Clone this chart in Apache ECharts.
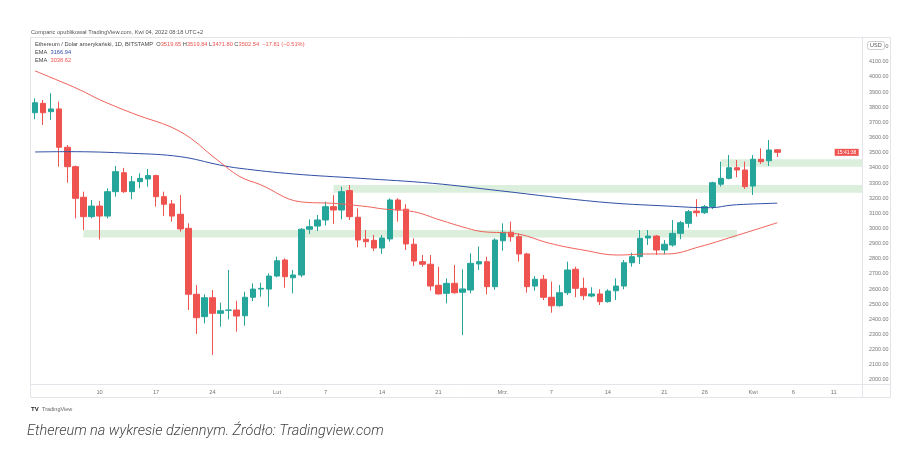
<!DOCTYPE html>
<html><head><meta charset="utf-8">
<script src="https://cdn.jsdelivr.net/npm/echarts@6/dist/echarts.min.js"></script>
<style>html,body{margin:0;padding:0;background:#fff;}#c{width:911px;height:470px;}</style>
</head><body><div id="c"></div>
<script>
// ---- data ----
const firstDay = '2022-01-02';
const axisDays = 103; // Jan 2 .. Apr 14 shown on the time scale
const openV = [3764,3826,3771,3789,3536,3408,3206,3078,3148,3082,
 3243,3368,3243,3309,3327,3349,3210,3162,3094,3001,
 2566,2418,2543,2440,2460,2462,2424,2546,2600,2600,
 2686,2792,2675,2693,2995,3016,3056,3144,3122,3250,
 3074,2929,2922,2871,2931,3188,3127,2896,2781,2764,
 2625,2572,2638,2579,2594,2766,2781,2616,2919,2975,
 2946,2832,2620,2665,2546,2490,2576,2731,2605,2554,
 2568,2517,2589,2620,2774,2814,2937,2950,2858,2891,
 2968,3034,3115,3104,3144,3292,3331,3401,3386,3280,
 3457,3447,3519.65];
const closeV = [3830,3764,3789,3536,3408,3199,3078,3148,3082,3243,
 3375,3243,3309,3331,3349,3210,3160,3082,2997,2566,
 2411,2543,2440,2457,2462,2422,2546,2600,2605,2686,
 2787,2682,2693,2995,3012,3056,3144,3122,3243,3078,
 2924,2913,2871,2937,3188,3122,2898,2785,2764,2620,
 2568,2638,2576,2601,2770,2781,2616,2924,2975,2946,
 2832,2616,2665,2546,2490,2576,2726,2605,2556,2568,
 2517,2587,2620,2774,2814,2935,2950,2858,2896,2968,
 3038,3111,3104,3144,3302,3331,3401,3386,3276,3457,
 3441,3518,3502.54];
const lowV = [3721,3683,3716,3408,3302,3067,2990,3067,2928,3067,
 3210,3235,3193,3265,3276,3144,3082,3045,2979,2462,
 2304,2374,2165,2352,2400,2319,2358,2521,2550,2484,
 2678,2609,2572,2678,2964,2983,3020,3030,3060,3056,
 2876,2876,2853,2832,2913,3045,2858,2752,2748,2590,
 2565,2506,2570,2297,2572,2726,2565,2595,2853,2913,
 2781,2576,2589,2528,2444,2484,2561,2546,2528,2546,
 2495,2510,2528,2599,2748,2766,2891,2825,2830,2880,
 2929,3005,3078,3096,3128,3276,3324,3338,3261,3221,
 3426,3412,3471.80];
const highV = [3859,3848,3892,3837,3551,3415,3243,3188,3181,3265,
 3412,3400,3346,3364,3393,3355,3243,3188,3221,3034,
 2627,2566,2594,2510,2726,2523,2583,2638,2642,2704,
 2814,2803,2726,3003,3060,3089,3177,3220,3276,3287,
 3133,2990,2957,2957,3199,3200,3160,2935,2825,2825,
 2748,2671,2759,2731,2836,2880,2814,2935,3034,3045,
 2968,2840,2686,2693,2649,2627,2781,2748,2675,2612,
 2599,2599,2671,2792,2840,2990,2990,2957,2924,3056,
 3050,3122,3193,3155,3309,3441,3485,3452,3441,3485,
 3529,3584,3519.84];
// EMA curves (day offset from firstDay, value)
const emaBlueDay = [0,4,12,18,22.9,25.4,32,40.3,49.3,57.6,70,78.4,83.7,86.5,92];
const emaBlueVal = [3505,3507,3496,3474,3419,3397,3360,3331,3298,3249,3175,3148,3137,3155,3167];
const emaRedDay = [0,2.5,5.6,8.1,12.1,18,22.6,25.4,27.9,32.9,36.9,41.2,43.1,46.9,50.2,53.6,55.5,59.8,63.8,67.9,72.2,76.2,78.4,82.4,86.5,92];
const emaRedVal = [4040,3985,3914,3848,3760,3639,3452,3342,3290,3176,3166,3144,3129,3111,3056,3001,2979,2964,2902,2858,2825,2832,2832,2880,2946,3038];
// support zones: start date, end date (null = right edge), low, high
const zoneStart = ['2022-01-08','2022-02-08','2022-03-28'];
const zoneEnd = ['2022-03-30', null, null];
const zoneLow = [2940, 3236, 3408];
const zoneHigh = [2990, 3287, 3457];
// tick labels
const xTickLabels = {'2022-01-10':'10','2022-01-17':'17','2022-01-24':'24','2022-02-01':'Lut','2022-02-07':'7','2022-02-14':'14','2022-02-21':'21','2022-03-01':'Mrz.','2022-03-07':'7','2022-03-14':'14','2022-03-21':'21','2022-03-26':'26','2022-04-01':'Kwi','2022-04-06':'6','2022-04-11':'11'};
const yTickValues = [2000,2100,2200,2300,2400,2500,2600,2700,2800,2900,3000,3100,3200,3300,3400,3500,3600,3700,3800,3900,4000,4100,4200];
const countdownText = '15:41:38';

// ---- build ----
const categories = [];
{ const d0 = new Date(firstDay + 'T00:00:00Z');
  for (let i = 0; i < axisDays; i++) { const d = new Date(d0.getTime() + i*86400000); categories.push(d.toISOString().slice(0,10)); } }
const candles = openV.map((o,i)=>[o, closeV[i], lowV[i], highV[i]]);
const lastClose = closeV[closeV.length-1];
const UP = '#26a69a', DOWN = '#ef5350';
const zones = zoneStart.map((s,k)=>[
  {coord:[categories.indexOf(s), zoneHigh[k]]},
  {coord:[zoneEnd[k] ? categories.indexOf(zoneEnd[k]) : axisDays-0.5, zoneLow[k]]}
]);
const FONT = '"Liberation Sans", Arial, sans-serif';
const FS = 5.7;

const chart = echarts.init(document.getElementById('c'), null, {renderer:'canvas'});
chart.setOption({
  animation:false,
  backgroundColor:'#fff',
  grid:{left:31, right:49, top:38, bottom:86},
  xAxis:[{
    type:'category', data:categories, boundaryGap:true,
    axisLine:{show:false}, axisTick:{show:false}, splitLine:{show:false},
    axisLabel:{interval:(i,v)=>Object.prototype.hasOwnProperty.call(xTickLabels,v),
      formatter:v=>xTickLabels[v]||'', color:'#777', fontSize:FS, margin:5, fontFamily:FONT}
  },{
    type:'value', min:-0.5, max:axisDays-0.5, show:false
  }],
  yAxis:{
    type:'value', position:'right', min:1973.6, max:4257.2, scale:true,
    axisLine:{show:false}, axisTick:{show:false}, splitLine:{show:false},
    axisLabel:{customValues:yTickValues, formatter:v=>v.toFixed(2), color:'#777', fontSize:5.4, margin:7, fontFamily:FONT}
  },
  series:[
    {type:'line', xAxisIndex:1, data:[], silent:true,
      markArea:{silent:true, itemStyle:{color:'rgba(76,175,80,0.2)'}, data:zones}},
    {type:'candlestick', xAxisIndex:0, data:candles, barWidth:6,
      itemStyle:{color:UP, color0:DOWN, borderColor:UP, borderColor0:DOWN, borderWidth:1},
      markLine:{silent:true, symbol:'none', lineStyle:{opacity:0},
        data:[{yAxis:lastClose, label:{show:true, position:'end', distance:1, formatter:()=>lastClose.toFixed(2),
          backgroundColor:DOWN, color:'#fff', fontSize:5.6, padding:[1,3,1,3], fontFamily:FONT}}]},
      z:3},
    {type:'line', xAxisIndex:1, data:emaBlueDay.map((d,i)=>[d,emaBlueVal[i]]), smooth:0.4, symbol:'none',
      lineStyle:{color:'#2f4fa5', width:1}, z:4,
      markPoint:{silent:true, symbol:'rect', symbolSize:[24,7], itemStyle:{color:DOWN},
        data:[{coord:[100.6, lastClose], label:{show:true, formatter:countdownText, color:'#fff', fontSize:5, fontFamily:FONT}}]}},
    {type:'line', xAxisIndex:1, data:emaRedDay.map((d,i)=>[d,emaRedVal[i]]), smooth:0.4, symbol:'none',
      lineStyle:{color:'#f0625a', width:1}, z:4}
  ],
  graphic:[
    {type:'rect', shape:{x:30.5,y:37.5,width:860,height:360}, style:{fill:'none', stroke:'#e3e5ea', lineWidth:1}, silent:true, z:-1},
    {type:'line', shape:{x1:862.5,y1:37.5,x2:862.5,y2:397.5}, style:{stroke:'#e3e5ea', lineWidth:1}, silent:true},
    {type:'line', shape:{x1:30.5,y1:384.5,x2:890.5,y2:384.5}, style:{stroke:'#e3e5ea', lineWidth:1}, silent:true},
    {type:'text', left:31, top:29.5, style:{text:'Comparic opublikował TradingView.com, Kwi 04, 2022 08:18 UTC+2', fill:'#555', font:FS+'px '+FONT}},
    {type:'text', left:35, top:41.5, style:{text:'{g|Ethereum / Dolar amerykański, 1D, BITSTAMP  O}{r|3519.65}{g| H}{r|3519.84}{g| L}{r|3471.80}{g| C}{r|3502.54}{r|  −17.81 (−0.51%)}',
      rich:{g:{fill:'#444', fontSize:FS, fontFamily:FONT}, r:{fill:DOWN, fontSize:FS, fontFamily:FONT}}}},
    {type:'text', left:35, top:49.5, style:{text:'{g|EMA  }{b|3166.94}', rich:{g:{fill:'#444', fontSize:FS, fontFamily:FONT}, b:{fill:'#2f4fa5', fontSize:FS, fontFamily:FONT}}}},
    {type:'text', left:35, top:57.5, style:{text:'{g|EMA  }{r|3038.62}', rich:{g:{fill:'#444', fontSize:FS, fontFamily:FONT}, r:{fill:DOWN, fontSize:FS, fontFamily:FONT}}}},
    {type:'rect', shape:{x:867.5,y:41.5,width:17,height:8,r:2}, style:{fill:'#fff', stroke:'#ccc', lineWidth:1}, z:10},
    {type:'text', left:870, top:42.5, z:11, style:{text:'USD', fill:'#555', font:'5.5px '+FONT}},
    {type:'text', left:31, top:403, style:{text:'{b|TV} {g|TradingView}', rich:{b:{fill:'#222', fontSize:6, fontWeight:'bold', fontFamily:FONT}, g:{fill:'#666', fontSize:5.5, fontFamily:FONT}}}},
    {type:'text', left:27, top:424, style:{text:'Ethereum na wykresie dziennym. Źródło: Tradingview.com', fill:'#444', font:'italic 300 14.5px Roboto, "Open Sans", sans-serif'}}
  ]
});
</script>
</body></html>
